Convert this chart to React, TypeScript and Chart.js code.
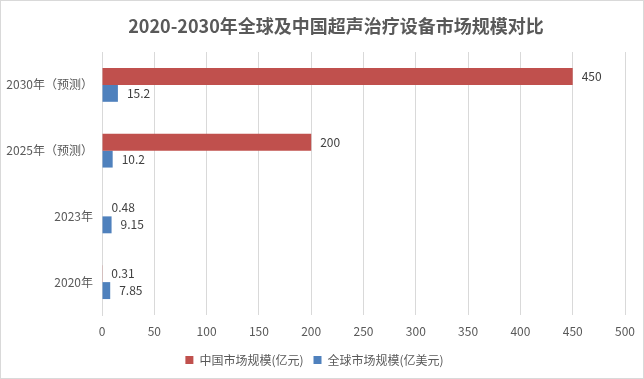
import React, { useEffect, useRef } from "react";
import { Chart, registerables } from "chart.js";

Chart.register(...registerables);

const categories = ["2030年（预测）", "2025年（预测）", "2023年", "2020年"];
const chinaValues = [450, 200, 0.48, 0.31];
const globalValues = [15.2, 10.2, 9.15, 7.85];
const seriesNames = ["中国市场规模(亿元)", "全球市场规模(亿美元)"];
const titleText = "2020-2030年全球及中国超声治疗设备市场规模对比";

const FONT = '"Noto Sans CJK SC", "Noto Sans", sans-serif';
const TEXT = "#595959";

const bgBorder = {
  id: "bgBorder",
  beforeDraw(chart: any) {
    const { ctx, width, height } = chart;
    ctx.save();
    ctx.fillStyle = "#ffffff";
    ctx.fillRect(0, 0, width, height);
    ctx.strokeStyle = "#D9D9D9";
    ctx.lineWidth = 1;
    ctx.strokeRect(0.5, 0.5, width - 1, height - 1);
    ctx.restore();
  },
  afterDraw(chart: any) {
    const { ctx } = chart;
    ctx.save();
    ctx.font = `bold 18px ${FONT}`;
    ctx.fillStyle = TEXT;
    ctx.textAlign = "center";
    ctx.textBaseline = "middle";
    ctx.fillText(titleText, 336, 26);
    ctx.restore();
  },
};

const dataLabels = {
  id: "dataLabels",
  afterDatasetsDraw(chart: any) {
    const { ctx } = chart;
    ctx.save();
    ctx.font = `12px ${FONT}`;
    ctx.fillStyle = "#404040";
    ctx.textAlign = "left";
    ctx.textBaseline = "middle";
    chart.data.datasets.forEach((ds: any, i: number) => {
      const meta = chart.getDatasetMeta(i);
      meta.data.forEach((el: any, j: number) => {
        ctx.fillText(String(ds.data[j]), el.x + 9, el.y);
      });
    });
    ctx.restore();
  },
};

export default function App() {
  const ref = useRef<HTMLCanvasElement>(null);
  useEffect(() => {
    document.body.style.margin = "0";
    const chart = new Chart(ref.current!, {
      type: "bar",
      data: {
        labels: categories,
        datasets: [
          { label: seriesNames[0], data: chinaValues, backgroundColor: "#C0504D" },
          { label: seriesNames[1], data: globalValues, backgroundColor: "#4F81BD" },
        ],
      },
      options: {
        indexAxis: "y",
        responsive: false,
        animation: false,
        datasets: { bar: { categoryPercentage: 0.515, barPercentage: 1 } },
        layout: { padding: { left: 0, right: 15, top: 52, bottom: 3 } },
        scales: {
          x: {
            min: 0,
            max: 500,
            ticks: { stepSize: 50, color: TEXT, font: { family: FONT, size: 12 }, padding: 9 },
            grid: { color: "#D9D9D9", drawTicks: false },
            border: { display: false },
            afterFit: (s: any) => {
              s.height = 29;
            },
          },
          y: {
            ticks: { color: TEXT, font: { family: FONT, size: 12 }, padding: 9 },
            grid: { display: false, drawTicks: false },
            border: { display: true, color: "#D9D9D9" },
            afterFit: (s: any) => {
              s.width = 102;
            },
          },
        },
        plugins: {
          title: { display: false },
          legend: {
            position: "bottom",
            labels: {
              color: TEXT,
              font: { family: FONT, size: 12 },
              boxWidth: 8,
              boxHeight: 8,
              padding: 10,
            },
          },
          tooltip: { enabled: false },
        },
      },
      plugins: [bgBorder, dataLabels],
    });
    return () => chart.destroy();
  }, []);
  return (
    <div style={{ width: 644, height: 379 }}>
      <canvas ref={ref} width={644} height={379} />
    </div>
  );
}
